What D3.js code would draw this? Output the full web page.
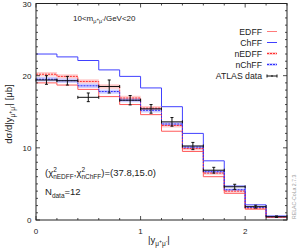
<!DOCTYPE html>
<html>
<head>
<meta charset="utf-8">
<script src="https://cdn.jsdelivr.net/npm/d3@7"></script>
<style>
  body { margin: 0; background: white; }
  text { font-family: "Liberation Sans", Arial, sans-serif; }
</style>
</head>
<body>
<div class="chart"></div>
<script>
const width = 297;
const height = 250;

// bin edges in |y|
const binEdges = [0, 0.2, 0.4, 0.6, 0.8, 1.0, 1.2, 1.4, 1.6, 1.8, 2.0, 2.2, 2.4];

const edff = [19.0, 18.7, 18.1, 17.1, 16.0, 14.6, 12.3, 9.5, 6.0, 3.7, 1.5, 0.37];
const chff = [23.0, 22.6, 22.1, 20.8, 19.9, 18.3, 15.7, 12.0, 8.2, 4.7, 2.1, 0.55];
const nedff = [20.2, 19.9, 19.2, 18.5, 16.9, 15.5, 13.1, 9.9, 6.5, 4.0, 1.65, 0.42];
const nchff = [19.5, 19.3, 18.6, 17.8, 16.6, 15.2, 13.3, 10.1, 6.7, 4.2, 1.75, 0.45];
const bandErr = [0.3, 0.3, 0.3, 0.3, 0.3, 0.3, 0.28, 0.25, 0.22, 0.18, 0.1, 0.05];

const atlas = [19.4, 19.3, 17.0, 18.5, 16.6, 15.4, 13.6, 10.25, 6.9, 4.6, 1.85, 0.46];
const atlasErr = [0.6, 0.6, 0.6, 0.9, 0.65, 0.6, 0.6, 0.5, 0.4, 0.35, 0.2, 0.1];

const yMajor = [0, 10, 20, 30];
const xMajor = [0, 1, 2];

const svg = d3.select("div.chart").append("svg")
  .attr("width", width)
  .attr("height", height);

const plotL = 36, plotR = 287, plotT = 3.5, plotB = 220;

const x = d3.scaleLinear().domain([0, 2.4]).range([plotL, plotR]);
const y = d3.scaleLinear().domain([0, 30]).range([plotB, plotT]);

const stepPoints = (vals) => {
  const pts = vals.map((v, i) => [binEdges[i], v]);
  pts.push([binEdges[binEdges.length - 1], vals[vals.length - 1]]);
  return pts;
};

const line = d3.line()
  .x(d => x(d[0]))
  .y(d => y(d[1]))
  .curve(d3.curveStepAfter);

const area = d3.area()
  .x(d => x(d[0]))
  .y0(d => y(d[1] - d[2]))
  .y1(d => y(d[1] + d[2]))
  .curve(d3.curveStepAfter);

const bandPoints = (vals) => {
  const pts = vals.map((v, i) => [binEdges[i], v, bandErr[i]]);
  pts.push([binEdges[binEdges.length - 1], vals[vals.length - 1], bandErr[vals.length - 1]]);
  return pts;
};

// bands
svg.append("path")
  .attr("d", area(bandPoints(nedff)))
  .attr("fill", "#ff9090")
  .attr("opacity", 0.45);
svg.append("path")
  .attr("d", area(bandPoints(nchff)))
  .attr("fill", "#9090ff")
  .attr("opacity", 0.45);

// curves
svg.append("path")
  .attr("d", line(stepPoints(edff)))
  .attr("fill", "none")
  .attr("stroke", "#ff5a5a")
  .attr("stroke-width", 1);
svg.append("path")
  .attr("d", line(stepPoints(chff)))
  .attr("fill", "none")
  .attr("stroke", "#4040ff")
  .attr("stroke-width", 1);
svg.append("path")
  .attr("d", line(stepPoints(nedff)))
  .attr("fill", "none")
  .attr("stroke", "#ff3030")
  .attr("stroke-width", 1)
  .attr("stroke-dasharray", "2,1");
svg.append("path")
  .attr("d", line(stepPoints(nchff)))
  .attr("fill", "none")
  .attr("stroke", "#3030ff")
  .attr("stroke-width", 1)
  .attr("stroke-dasharray", "2,1");

// ATLAS data points
const pts = svg.append("g").attr("stroke", "#111").attr("stroke-width", 1).attr("fill", "none");
atlas.forEach((v, i) => {
  const x0 = x(binEdges[i]), x1 = x(binEdges[i + 1]);
  const xc = (x0 + x1) / 2;
  const yc = y(v), ylo = y(v - atlasErr[i]), yhi = y(v + atlasErr[i]);
  const g = pts.append("g");
  g.append("line").attr("x1", x0).attr("x2", x1).attr("y1", yc).attr("y2", yc);
  g.append("line").attr("x1", x0).attr("x2", x0).attr("y1", yc - 1.5).attr("y2", yc + 1.5);
  g.append("line").attr("x1", x1).attr("x2", x1).attr("y1", yc - 1.5).attr("y2", yc + 1.5);
  g.append("line").attr("x1", xc).attr("x2", xc).attr("y1", ylo).attr("y2", yhi);
  g.append("line").attr("x1", xc - 1.5).attr("x2", xc + 1.5).attr("y1", ylo).attr("y2", ylo);
  g.append("line").attr("x1", xc - 1.5).attr("x2", xc + 1.5).attr("y1", yhi).attr("y2", yhi);
});

// frame
svg.append("rect")
  .attr("x", plotL).attr("y", plotT)
  .attr("width", plotR - plotL).attr("height", plotB - plotT)
  .attr("fill", "none").attr("stroke", "#222").attr("stroke-width", 1);

// ticks (inward, on all four sides)
const xMinor = d3.range(0, 2.41, 0.2);
const yMinor = d3.range(0, 30.01, 1);
const tickG = svg.append("g").attr("stroke", "#222").attr("stroke-width", 0.8);
xMinor.forEach(t => {
  const len = xMajor.some(m => Math.abs(m - t) < 1e-6) ? 4 : 2;
  tickG.append("line").attr("x1", x(t)).attr("x2", x(t)).attr("y1", plotB).attr("y2", plotB - len);
  tickG.append("line").attr("x1", x(t)).attr("x2", x(t)).attr("y1", plotT).attr("y2", plotT + len);
});
yMinor.forEach(t => {
  const len = Math.abs(t % 10) < 1e-6 ? 4 : 2;
  tickG.append("line").attr("x1", plotL).attr("x2", plotL + len).attr("y1", y(t)).attr("y2", y(t));
  tickG.append("line").attr("x1", plotR).attr("x2", plotR - len).attr("y1", y(t)).attr("y2", y(t));
});

// tick labels
svg.append("g").selectAll("text")
  .data(xMajor).enter().append("text")
  .attr("x", d => x(d)).attr("y", 234)
  .attr("text-anchor", "middle")
  .attr("font-size", 8).attr("fill", "#222")
  .text(d => d);
svg.append("g").selectAll("text")
  .data(yMajor).enter().append("text")
  .attr("x", 31.5).attr("y", d => y(d) + 3)
  .attr("text-anchor", "end")
  .attr("font-size", 8).attr("fill", "#222")
  .text(d => d);

// axis titles
const xt = svg.append("text")
  .attr("x", 148).attr("y", 243)
  .attr("font-size", 9.5).attr("fill", "#222");
xt.append("tspan").text("|y");
xt.append("tspan").attr("font-size", 6.5).attr("dy", 2.5).text("μ");
xt.append("tspan").attr("font-size", 5).attr("dy", -2.5).text("+");
xt.append("tspan").attr("font-size", 6.5).attr("dy", 2.5).text("μ");
xt.append("tspan").attr("font-size", 5).attr("dy", -2.5).text("-");
xt.append("tspan").text("|");

const yt = svg.append("text")
  .attr("transform", "translate(12, 114) rotate(-90)")
  .attr("text-anchor", "middle")
  .attr("font-size", 9.5).attr("fill", "#222");
yt.append("tspan").text("dσ/d|y");
yt.append("tspan").attr("font-size", 6.5).attr("dy", 2.5).text("μ");
yt.append("tspan").attr("font-size", 5).attr("dy", -2.5).text("+");
yt.append("tspan").attr("font-size", 6.5).attr("dy", 2.5).text("μ");
yt.append("tspan").attr("font-size", 5).attr("dy", -2.5).text("-");
yt.append("tspan").text("| [μb]");

// mass range label
const mt = svg.append("text")
  .attr("x", 73).attr("y", 20.5)
  .attr("font-size", 8).attr("fill", "#222");
mt.append("tspan").text("10<m");
mt.append("tspan").attr("font-size", 5.5).attr("dy", 2).text("μ");
mt.append("tspan").attr("font-size", 4.5).attr("dy", -2).text("+");
mt.append("tspan").attr("font-size", 5.5).attr("dy", 2).text("μ");
mt.append("tspan").attr("font-size", 4.5).attr("dy", -2).text("-");
mt.append("tspan").text("/GeV<20");

// chi2 text
const ct = svg.append("text")
  .attr("x", 45).attr("y", 176)
  .attr("font-size", 9.5).attr("fill", "#222");
ct.append("tspan").text("(χ");
ct.append("tspan").attr("font-size", 6.5).attr("dy", -4.5).text("2");
ct.append("tspan").attr("font-size", 6.5).attr("dx", -3.6).attr("dy", 7).text("nEDFF");
ct.append("tspan").attr("dy", -2.5).text(",χ");
ct.append("tspan").attr("font-size", 6.5).attr("dy", -4.5).text("2");
ct.append("tspan").attr("font-size", 6.5).attr("dx", -3.6).attr("dy", 7).text("nChFF");
ct.append("tspan").attr("dy", -2.5).text(")=(37.8,15.0)");

const nt = svg.append("text")
  .attr("x", 45).attr("y", 195)
  .attr("font-size", 9.5).attr("fill", "#222");
nt.append("tspan").text("N");
nt.append("tspan").attr("font-size", 6.5).attr("dy", 2.5).text("data");
nt.append("tspan").attr("dy", -2.5).text("=12");

// legend
const legendNames = ["EDFF", "ChFF", "nEDFF", "nChFF", "ATLAS data"];
const legendY = [31.5, 42.5, 53.5, 64.5, 76];
const legend = svg.append("g");
legendNames.forEach((name, i) => {
  const ly = legendY[i];
  legend.append("text")
    .attr("x", 262).attr("y", ly + 3)
    .attr("text-anchor", "end")
    .attr("font-size", 8.7).attr("fill", "#222")
    .text(name);
  if (i === 0) {
    legend.append("line").attr("x1", 267).attr("x2", 277).attr("y1", ly).attr("y2", ly)
      .attr("stroke", "#ff7a7a").attr("stroke-width", 1);
  } else if (i === 1) {
    legend.append("line").attr("x1", 267).attr("x2", 277).attr("y1", ly).attr("y2", ly)
      .attr("stroke", "#4040ff").attr("stroke-width", 1);
  } else if (i === 2 || i === 3) {
    const c = i === 2 ? "#ff3030" : "#3030ff";
    const f = i === 2 ? "#ff9090" : "#9090ff";
    legend.append("rect").attr("x", 267).attr("y", ly - 1.5).attr("width", 10).attr("height", 3)
      .attr("fill", f).attr("opacity", 0.45);
    legend.append("line").attr("x1", 267).attr("x2", 277).attr("y1", ly).attr("y2", ly)
      .attr("stroke", c).attr("stroke-width", 1).attr("stroke-dasharray", "2,1");
  } else {
    const lg = legend.append("g").attr("stroke", "#111").attr("stroke-width", 1);
    lg.append("line").attr("x1", 267).attr("x2", 277).attr("y1", ly).attr("y2", ly);
    lg.append("line").attr("x1", 267).attr("x2", 267).attr("y1", ly - 1.5).attr("y2", ly + 1.5);
    lg.append("line").attr("x1", 277).attr("x2", 277).attr("y1", ly - 1.5).attr("y2", ly + 1.5);
    lg.append("line").attr("x1", 272).attr("x2", 272).attr("y1", ly - 1).attr("y2", ly + 1);
  }
});

// version stamp
svg.append("text")
  .attr("transform", "translate(295.5, 219) rotate(-90)")
  .attr("font-size", 5.2).attr("fill", "#999")
  .text("RELAC-CoLa  2.7.3");
</script>
</body>
</html>
